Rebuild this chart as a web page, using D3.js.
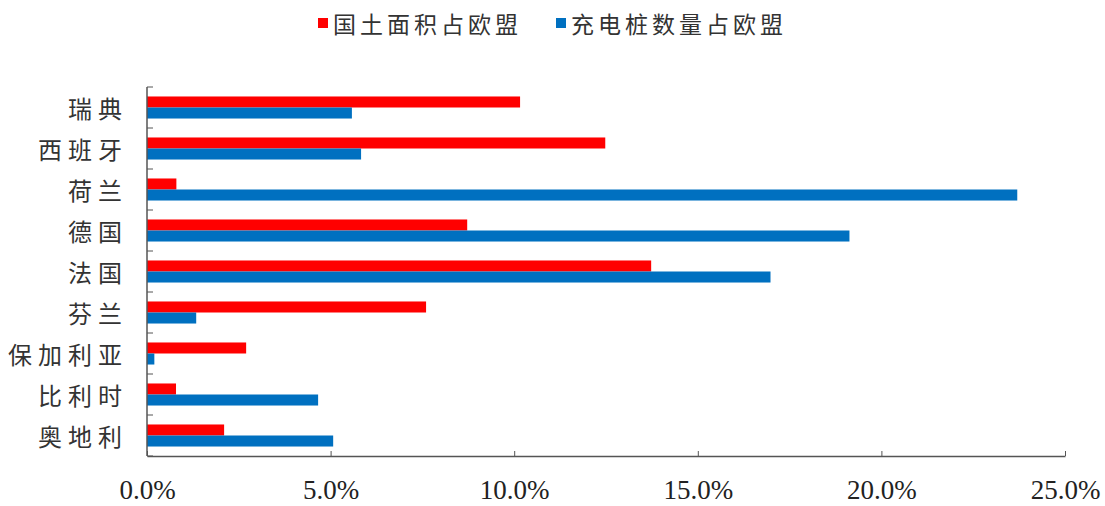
<!DOCTYPE html>
<html><head><meta charset="utf-8">
<script src="https://cdn.jsdelivr.net/npm/d3@7"></script>
<style>body{margin:0;background:#fff}svg{display:block}</style>
</head><body>
<svg id="c" width="1105" height="506"></svg>
<script>
const categories = ["瑞典","西班牙","荷兰","德国","法国","芬兰","保加利亚","比利时","奥地利"];
const seriesNames = ["国土面积占欧盟","充电桩数量占欧盟"];
const areaShare = [10.16, 12.48, 0.8, 8.72, 13.73, 7.6, 2.7, 0.79, 2.1];
const chargerShare = [5.58, 5.83, 23.7, 19.13, 16.98, 1.34, 0.2, 4.66, 5.07];
const xTicks = [0, 5, 10, 15, 20, 25];
const colors = ["#FF0000", "#0070C0"];

const svg = d3.select("#c");
const L = 147, R = 1065, T = 87, B = 456;
const x = d3.scaleLinear().domain([0, 25]).range([L, R]);
const y = d3.scaleBand().domain(categories).range([T, B]).padding(0);
const ys = d3.scaleBand().domain([0,1]).range([0, y.bandwidth()]).paddingInner(0).paddingOuter(0.86);

const data = categories.map((c,i)=>({c, v:[areaShare[i], chargerShare[i]]}));

const g = svg.append("g");
data.forEach(d=>{
  d.v.forEach((v,k)=>{
    g.append("rect")
      .attr("x", x(0)).attr("y", y(d.c)+ys(k))
      .attr("width", x(v)-x(0)).attr("height", ys.bandwidth())
      .attr("fill", colors[k]);
  });
});

// x axis
const xa = svg.append("g").attr("transform", `translate(0,${B})`)
  .call(d3.axisBottom(x).tickValues(xTicks).tickSize(-5).tickFormat(d=>d.toFixed(1)+"%").tickSizeOuter(0).tickPadding(19));
xa.select(".domain").attr("stroke","#555").attr("stroke-width",1.5);
xa.selectAll(".tick line").attr("stroke","#555");
xa.selectAll("text").attr("font-family","'Liberation Serif', serif").attr("font-size",27).attr("fill","#222").attr("dy","0.9em");

// y axis
svg.append("line").attr("x1",L).attr("x2",L).attr("y1",T).attr("y2",B).attr("stroke","#555").attr("stroke-width",1.5);
const bounds = categories.map(c=>y(c)).concat([B]);
svg.selectAll(".yt").data(bounds).join("line").attr("class","yt")
  .attr("x1",L).attr("x2",L+6).attr("y1",d=>d).attr("y2",d=>d).attr("stroke","#555");
const ls = 6;
svg.selectAll(".yl").data(categories).join("text").attr("class","yl")
  .attr("x", 122+ls).attr("y", d=>y(d)+y.bandwidth()/2)
  .attr("text-anchor","end").attr("dominant-baseline","central")
  .attr("font-family","'Noto Sans CJK SC', sans-serif").attr("font-size",24)
  .attr("letter-spacing",ls).attr("fill","#333").text(d=>d);

// legend
const legX = [318, 556];
seriesNames.forEach((n,k)=>{
  svg.append("rect").attr("x",legX[k]).attr("y",18).attr("width",10).attr("height",10).attr("fill",colors[k]);
  svg.append("text").attr("x",legX[k]+15).attr("y",23).attr("dominant-baseline","central")
    .attr("font-family","'Noto Sans CJK SC', sans-serif").attr("font-size",23).attr("letter-spacing",4)
    .attr("fill","#333").text(n);
});
</script>
</body></html>
